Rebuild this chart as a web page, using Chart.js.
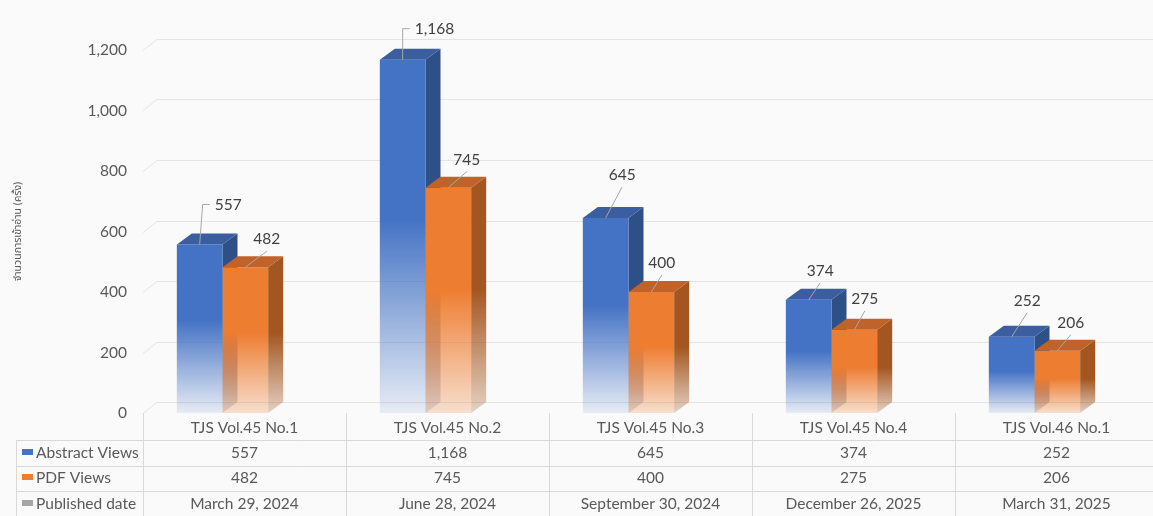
<!DOCTYPE html>
<html>
<head>
<meta charset="utf-8">
<script src="https://cdn.jsdelivr.net/npm/chart.js@4.4.1/dist/chart.umd.min.js"></script>
<style>
  html, body { margin: 0; padding: 0; background: #fafafa; overflow: hidden; }
  #wrap { width: 1160px; height: 516px; }
</style>
</head>
<body>
<div id="wrap"><canvas id="myChart" width="1160" height="516"></canvas></div>
<script>
const categories = ['TJS Vol.45 No.1', 'TJS Vol.45 No.2', 'TJS Vol.45 No.3', 'TJS Vol.45 No.4', 'TJS Vol.46 No.1'];
const abstractViews = [557, 1168, 645, 374, 252];
const pdfViews = [482, 745, 400, 275, 206];
const publishedDates = ['March 29, 2024', 'June 28, 2024', 'September 30, 2024', 'December 26, 2025', 'March 31, 2025'];
const seriesNames = ['Abstract Views', 'PDF Views', 'Published date'];
const yAxisTitle = 'จำนวนการเข้าอ่าน (ครั้ง)';

const FONT = 'Lato, "Open Sans", sans-serif';
const TEXT = '#595959';
const LINE = '#d9d9d9';
const SHIFT = -22;   // the 3d pair sits left of the category centre
const DX = 15;       // depth of the boxes
const DY = -11;

function rgba(hex, a) {
  const n = parseInt(hex.slice(1), 16);
  return 'rgba(' + (n >> 16) + ',' + ((n >> 8) & 255) + ',' + (n & 255) + ',' + a + ')';
}

// vertical fade: solid on the upper half, washed out near the floor
function fade(ctx, color, top, bottom, endAlpha) {
  const g = ctx.createLinearGradient(0, top, 0, bottom);
  g.addColorStop(0, color);
  g.addColorStop(0.45, color);
  g.addColorStop(1, rgba(color, endAlpha));
  return g;
}

function frontFill(color, endAlpha) {
  return (c) => {
    const y = c.chart.scales.y;
    if (!y || c.raw == null) return color;
    const top = y.getPixelForValue(c.raw);
    const bottom = y.getPixelForValue(0);
    if (!isFinite(top) || !isFinite(bottom) || bottom - top < 1) return color;
    return fade(c.chart.ctx, color, top, bottom, endAlpha);
  };
}

const backWall = {
  id: 'backWall',
  beforeDraw(chart) {
    const { ctx, chartArea, scales } = chart;
    ctx.save();
    ctx.strokeStyle = '#e4e4e4';
    ctx.lineWidth = 1;
    scales.y.ticks.forEach((t) => {
      const yy = Math.round(scales.y.getPixelForValue(t.value)) + 0.5;
      ctx.beginPath();
      ctx.moveTo(chartArea.left, yy);
      ctx.lineTo(chartArea.left + 14, yy + DY);
      ctx.lineTo(chartArea.right, yy + DY);
      ctx.stroke();
    });
    ctx.restore();
  },
};

function boxTop(ctx, x0, x1, y, color) {
  ctx.fillStyle = color;
  ctx.beginPath();
  ctx.moveTo(x0, y);
  ctx.lineTo(x0 + DX, y + DY);
  ctx.lineTo(x1 + DX, y + DY);
  ctx.lineTo(x1, y);
  ctx.closePath();
  ctx.fill();
}

function boxSide(ctx, x1, y, base, ds) {
  ctx.fillStyle = fade(ctx, ds.sideColor, y, base, ds.fadeAlpha);
  ctx.beginPath();
  ctx.moveTo(x1, y);
  ctx.lineTo(x1 + DX, y + DY);
  ctx.lineTo(x1 + DX, base + DY);
  ctx.lineTo(x1, base);
  ctx.closePath();
  ctx.fill();
}

// chart.js paints the last dataset first, so the blue side faces go down
// before anything else and the orange fronts can cover them
const bars3d = {
  id: 'bars3d',
  beforeDatasetsDraw(chart) {
    const ctx = chart.ctx;
    ctx.save();
    ctx.translate(SHIFT, 0);
    const base = chart.scales.y.getPixelForValue(0);
    const ds = chart.data.datasets[0];
    chart.getDatasetMeta(0).data.forEach((bar) => {
      const { x, y, width } = bar.getProps(['x', 'y', 'width'], true);
      boxSide(ctx, x + width / 2, y, base, ds);
    });
  },
  afterDatasetsDraw(chart) {
    chart.ctx.restore();
  },
  afterDatasetDraw(chart, args) {
    const ds = chart.data.datasets[args.index];
    const ctx = chart.ctx;
    const base = chart.scales.y.getPixelForValue(0);
    args.meta.data.forEach((bar) => {
      const { x, y, width } = bar.getProps(['x', 'y', 'width'], true);
      const x0 = x - width / 2;
      const x1 = x + width / 2;
      if (args.index === 1) boxSide(ctx, x1, y, base, ds);
      boxTop(ctx, x0, x1, y, ds.topColor);
    });
  },
};

const callouts = {
  id: 'callouts',
  afterDraw(chart, args, opts) {
    const ctx = chart.ctx;
    ctx.save();
    ctx.font = '15.5px ' + FONT;
    ctx.fillStyle = '#404040';
    ctx.strokeStyle = '#a6a6a6';
    ctx.lineWidth = 1;
    ctx.textBaseline = 'middle';
    ctx.textAlign = 'left';
    chart.data.datasets.forEach((ds, di) => {
      const offs = opts.offsets[di];
      chart.getDatasetMeta(di).data.forEach((bar, i) => {
        const bx = bar.x + SHIFT;
        const by = bar.y;
        const label = ds.data[i].toLocaleString('en-US');
        const tx = bx + offs[i][0];
        const ty = by + offs[i][1];
        const w = ctx.measureText(label).width;
        ctx.beginPath();
        ctx.moveTo(bx, by);
        if (offs[i][0] > 8) {
          ctx.lineTo(tx - 12, ty);
          ctx.lineTo(tx - 5, ty);
        } else {
          ctx.lineTo(tx + w / 2, ty + 12);
        }
        ctx.stroke();
        ctx.fillText(label, tx, ty);
      });
    });
    ctx.restore();
  },
};

const dataTable = {
  id: 'dataTable',
  afterDraw(chart) {
    const { ctx, chartArea, scales } = chart;
    const left = chartArea.left;
    const colW = (chartArea.right - chartArea.left) / categories.length;
    const floor = chartArea.bottom;
    const rowLines = [440, 466, 491];
    const rowMid = [428, 453, 478, 504];
    ctx.save();
    ctx.strokeStyle = LINE;
    ctx.lineWidth = 1;
    ctx.beginPath();
    for (let i = 0; i <= categories.length; i++) {
      const xx = Math.round(left + i * colW) + 0.5;
      ctx.moveTo(xx, floor);
      ctx.lineTo(xx, 516);
    }
    ctx.moveTo(16.5, rowLines[0]);
    ctx.lineTo(16.5, 516);
    rowLines.forEach((ly) => {
      ctx.moveTo(16, ly + 0.5);
      ctx.lineTo(chartArea.right, ly + 0.5);
    });
    ctx.stroke();

    ctx.font = '15.5px ' + FONT;
    ctx.fillStyle = TEXT;
    ctx.textBaseline = 'middle';
    ctx.textAlign = 'center';
    const rows = [
      categories,
      abstractViews.map((v) => v.toLocaleString('en-US')),
      pdfViews.map((v) => v.toLocaleString('en-US')),
      publishedDates,
    ];
    rows.forEach((row, r) => {
      row.forEach((txt, i) => {
        ctx.fillText(txt, scales.x.getPixelForValue(i), rowMid[r]);
      });
    });

    const keys = ['#4472c4', '#ed7d31', '#a5a5a5'];
    ctx.textAlign = 'left';
    seriesNames.forEach((name, r) => {
      ctx.fillStyle = keys[r];
      ctx.fillRect(22, rowMid[r + 1] - 4, 11, 6);
      ctx.fillStyle = TEXT;
      ctx.fillText(name, 36, rowMid[r + 1]);
    });
    ctx.restore();
  },
};

new Chart('myChart', {
  type: 'bar',
  data: {
    labels: categories,
    datasets: [
      {
        label: seriesNames[0],
        data: abstractViews,
        backgroundColor: frontFill('#4472c4', 0.1),
        topColor: '#3a5e9f',
        sideColor: '#2f4f87',
        fadeAlpha: 0.15,
        categoryPercentage: 0.45,
        barPercentage: 1,
        clip: false,
      },
      {
        label: seriesNames[1],
        data: pdfViews,
        backgroundColor: frontFill('#ed7d31', 0.22),
        topColor: '#c0632a',
        sideColor: '#a3561f',
        fadeAlpha: 0.25,
        categoryPercentage: 0.45,
        barPercentage: 1,
        clip: false,
      },
    ],
  },
  options: {
    responsive: false,
    animation: false,
    layout: { padding: { top: 50, right: 2, bottom: 103, left: 0 } },
    plugins: {
      legend: { display: false },
      tooltip: { enabled: false },
      callouts: {
        offsets: [
          [[15, -40], [12, -31], [3, -43], [-2, -29], [2, -36]],
          [[8, -28], [5, -28], [-3, -29], [-3, -31], [0, -28]],
        ],
      },
    },
    scales: {
      x: { display: false },
      y: {
        min: 0,
        max: 1200,
        afterFit: (scale) => { scale.width = 143; },
        border: { display: false },
        grid: { display: false },
        ticks: {
          stepSize: 200,
          padding: 8,
          color: TEXT,
          font: { family: FONT, size: 15.5 },
        },
        title: {
          display: true,
          text: yAxisTitle,
          color: TEXT,
          font: { family: '"Noto Sans Thai", "Noto Sans", sans-serif', size: 10.5 },
          padding: { top: 13, bottom: 0 },
        },
      },
    },
  },
  plugins: [backWall, bars3d, callouts, dataTable],
});
</script>
</body>
</html>
